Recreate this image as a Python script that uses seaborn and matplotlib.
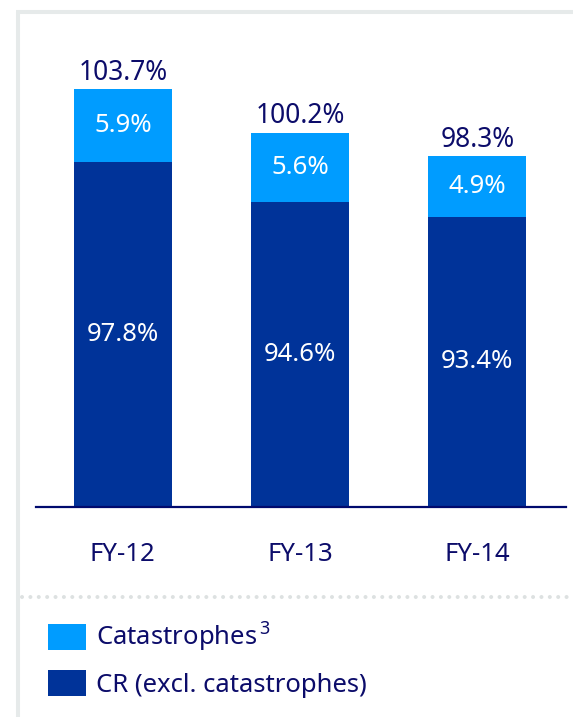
import matplotlib
matplotlib.use("Agg")
import matplotlib.pyplot as plt
from matplotlib.lines import Line2D
from matplotlib.patches import Patch
import seaborn as sns
import pandas as pd

# ---- data ----
years = ["FY-12", "FY-13", "FY-14"]
cr_excl_cat = [97.8, 94.6, 93.4]
catastrophes = [5.9, 5.6, 4.9]
cr_total = [103.7, 100.2, 98.3]

DARK = "#003399"
LIGHT = "#009cff"
NAVY = "#0c0c6a"
FRAME = "#e6eaea"

sns.set_theme(style="white")
plt.rcParams["font.family"] = ["Noto Sans", "DejaVu Sans"]
plt.rcParams["mathtext.fontset"] = "custom"
plt.rcParams["mathtext.rm"] = "Noto Sans"
plt.rcParams["mathtext.default"] = "regular"

df = pd.DataFrame({"year": years, "base": cr_excl_cat, "cat": catastrophes, "total": cr_total})
df["top"] = df["base"] + df["cat"]

fig = plt.figure(figsize=(5.73, 7.17), dpi=100)
ax = fig.add_axes([36 / 573, 210 / 717, 530 / 573, 471 / 717])

# stacked bars: full height in light blue, base in dark blue on top of it
sns.barplot(data=df, x="year", y="top", color=LIGHT, width=0.554, saturation=1,
            linewidth=0, ax=ax)
sns.barplot(data=df, x="year", y="base", color=DARK, width=0.554, saturation=1,
            linewidth=0, ax=ax)

ax.set_ylim(70, 108)
ax.set_xlim(-0.49, 2.50)
ax.set_xlabel("")
ax.set_ylabel("")
ax.set_yticks([])
ax.tick_params(axis="x", length=0, pad=25, labelsize=18.5, labelcolor=NAVY)
for side in ["top", "left", "right"]:
    ax.spines[side].set_visible(False)
ax.spines["bottom"].set_color("#000a6e")
ax.spines["bottom"].set_linewidth(1.6)

# value labels
for i, row in df.iterrows():
    ax.text(i, 70 + (row["base"] - 70) / 2, f"{row['base']:.1f}%", ha="center", va="center",
            color="white", fontsize=18.5)
    ax.text(i, row["base"] + row["cat"] / 2, f"{row['cat']:.1f}%", ha="center", va="center",
            color="white", fontsize=18.5)
    ax.annotate(f"{row['total']:.1f}%", (i, row["top"]), xytext=(0, 7), textcoords="offset points",
                ha="center", va="baseline", color=NAVY, fontsize=19)

# frame and dotted separator
fig.add_artist(Line2D([18 / 573, 18 / 573], [0, 1 - 12 / 717], transform=fig.transFigure,
                      color=FRAME, lw=2.9, solid_capstyle="butt"))
fig.add_artist(Line2D([16 / 573, 1], [1 - 12 / 717, 1 - 12 / 717], transform=fig.transFigure,
                      color=FRAME, lw=2.9, solid_capstyle="butt"))
fig.add_artist(Line2D([22 / 573, 1], [1 - 597 / 717, 1 - 597 / 717], transform=fig.transFigure,
                      color="#dde1e1", lw=2.9, linestyle=(0, (0.01, 2.07)), dash_capstyle="round"))

# legend
handles = [Patch(facecolor=LIGHT, edgecolor="none"), Patch(facecolor=DARK, edgecolor="none")]
labels = ["Catastrophes$^{\\,3}$", "CR (excl. catastrophes)"]
leg = fig.legend(handles, labels, loc="upper left", bbox_to_anchor=(48 / 573, 1 - 621 / 717),
                 frameon=False, fontsize=18.5, handlelength=1.47, handleheight=1.17,
                 handletextpad=0.38, labelspacing=0.62, borderpad=0, borderaxespad=0)
for t in leg.get_texts():
    t.set_color(NAVY)

fig.savefig("out.png", dpi=100)
